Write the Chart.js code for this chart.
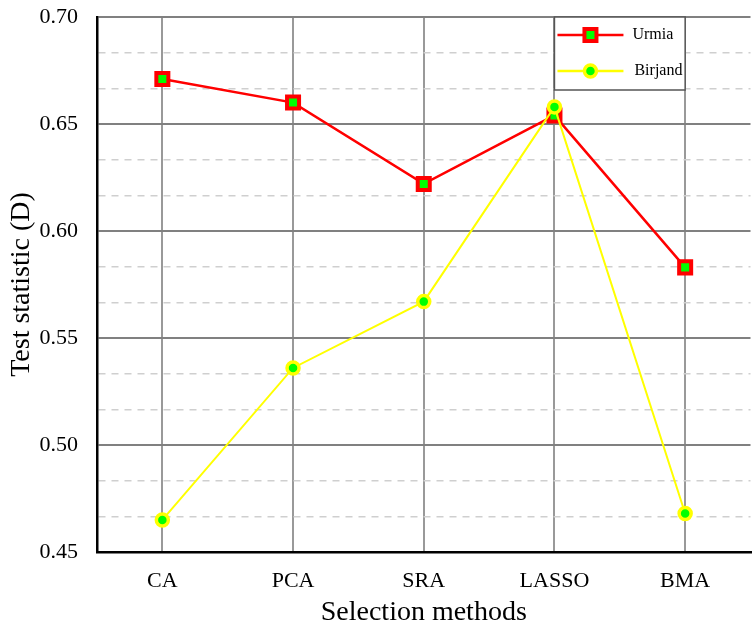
<!DOCTYPE html>
<html>
<head>
<meta charset="utf-8">
<script src="https://cdn.jsdelivr.net/npm/chart.js@4"></script>
<style>
  html, body { margin: 0; padding: 0; background: #fff; overflow: hidden; }
  #wrap { width: 763px; height: 625px; }
</style>
</head>
<body>
<div id="wrap"><canvas id="chart"></canvas></div>
<script>
const methods = ['CA', 'PCA', 'SRA', 'LASSO', 'BMA'];
const urmia = [0.671, 0.660, 0.622, 0.654, 0.583];
const birjand = [0.465, 0.536, 0.567, 0.658, 0.468];
const yMajorTicks = [0.45, 0.50, 0.55, 0.60, 0.65, 0.70];

const SERIF = '"Liberation Serif", "Times New Roman", serif';
const GREEN = '#00ff00';

// two dashed minor lines between each pair of major ticks
function buildYTicks(scale) {
  const ticks = [];
  for (let i = 0; i < yMajorTicks.length; i++) {
    ticks.push({ value: yMajorTicks[i], major: true });
    if (i < yMajorTicks.length - 1) {
      const d = yMajorTicks[i + 1] - yMajorTicks[i];
      ticks.push({ value: yMajorTicks[i] + d / 3, major: false });
      ticks.push({ value: yMajorTicks[i] + 2 * d / 3, major: false });
    }
  }
  scale.ticks = ticks;
}

const boxLegend = {
  id: 'boxLegend',
  afterDatasetsDraw(chart) {
    const ctx = chart.ctx;
    const x = chart.scales.x;
    const left = x.getPixelForValue(3);
    const right = x.getPixelForValue(4);
    const top = chart.chartArea.top;
    const h = 73;
    ctx.save();
    ctx.fillStyle = '#fff';
    ctx.fillRect(left, top, right - left, h);
    ctx.strokeStyle = '#555';
    ctx.lineWidth = 1.5;
    ctx.strokeRect(left, top, right - left, h);

    const items = [
      { label: 'Urmia', color: '#ff0000', y: top + 18, rect: true, tx: left + 78 },
      { label: 'Birjand', color: '#ffff00', y: top + 54, rect: false, tx: left + 80 }
    ];
    items.forEach(it => {
      ctx.strokeStyle = it.color;
      ctx.lineWidth = 2.5;
      ctx.beginPath();
      ctx.moveTo(left + 3, it.y);
      ctx.lineTo(left + 69, it.y);
      ctx.stroke();
      const cx = left + 36;
      ctx.fillStyle = GREEN;
      ctx.beginPath();
      if (it.rect) {
        ctx.rect(cx - 6, it.y - 6, 12, 12);
        ctx.lineWidth = 4;
      } else {
        ctx.arc(cx, it.y, 6, 0, Math.PI * 2);
        ctx.lineWidth = 3.5;
      }
      ctx.fill();
      ctx.stroke();
      ctx.fillStyle = '#000';
      ctx.font = '16px ' + SERIF;
      ctx.textBaseline = 'middle';
      ctx.fillText(it.label, it.tx, it.y);
    });
    ctx.restore();
  }
};

new Chart(document.getElementById('chart'), {
  type: 'line',
  data: {
    labels: methods,
    datasets: [{
      label: 'Urmia',
      data: urmia,
      order: 1,
      borderColor: '#ff0000',
      borderWidth: 2.5,
      pointStyle: 'rect',
      pointRadius: 8.5,
      pointBorderWidth: 4,
      pointBorderColor: '#ff0000',
      pointBackgroundColor: GREEN,
      tension: 0
    }, {
      label: 'Birjand',
      data: birjand,
      order: 0,
      borderColor: '#ffff00',
      borderWidth: 2,
      pointStyle: 'circle',
      pointRadius: 6,
      pointBorderWidth: 3.5,
      pointBorderColor: '#ffff00',
      pointBackgroundColor: GREEN,
      tension: 0
    }]
  },
  options: {
    responsive: true,
    maintainAspectRatio: false,
    animation: false,
    layout: { padding: { top: 17, right: 0, left: 0, bottom: 0 } },
    plugins: {
      legend: { display: false },
      tooltip: { enabled: false }
    },
    scales: {
      x: {
        offset: true,
        afterFit: s => { s.height = 73; s.paddingLeft = 0; s.paddingRight = 0; },
        grid: { color: '#999', lineWidth: 2, drawTicks: false },
        border: { color: '#000', width: 2.5 },
        ticks: { color: '#000', padding: 16, font: { family: SERIF, size: 22 } },
        title: {
          display: true, text: 'Selection methods', color: '#000',
          padding: { top: 0, bottom: 0 },
          font: { family: SERIF, size: 28, lineHeight: 0.9 }
        }
      },
      y: {
        min: 0.45,
        max: 0.70,
        afterBuildTicks: buildYTicks,
        afterFit: s => { s.width = 97; s.paddingTop = 0; s.paddingBottom = 0; },
        grid: {
          drawTicks: false,
          color: c => {
            if (!c.tick) return '#808080';
            if (c.index === 0) return 'rgba(0,0,0,0)';
            return c.tick.major ? '#808080' : '#cfcfcf';
          },
          lineWidth: c => (c.tick && !c.tick.major) ? 1.5 : 2
        },
        border: {
          color: '#000',
          width: 2.5,
          dash: c => (c.tick && !c.tick.major) ? [7, 6] : []
        },
        ticks: {
          color: '#000',
          padding: 19,
          font: { family: SERIF, size: 22 },
          callback: function (v, i, ticks) {
            return ticks[i].major ? v.toFixed(2) : '';
          }
        },
        title: {
          display: true, text: 'Test statistic (D)', color: '#000',
          padding: { top: 8, bottom: 0 },
          font: { family: SERIF, size: 28, lineHeight: 1 }
        }
      }
    }
  },
  plugins: [boxLegend]
});
</script>
</body>
</html>
